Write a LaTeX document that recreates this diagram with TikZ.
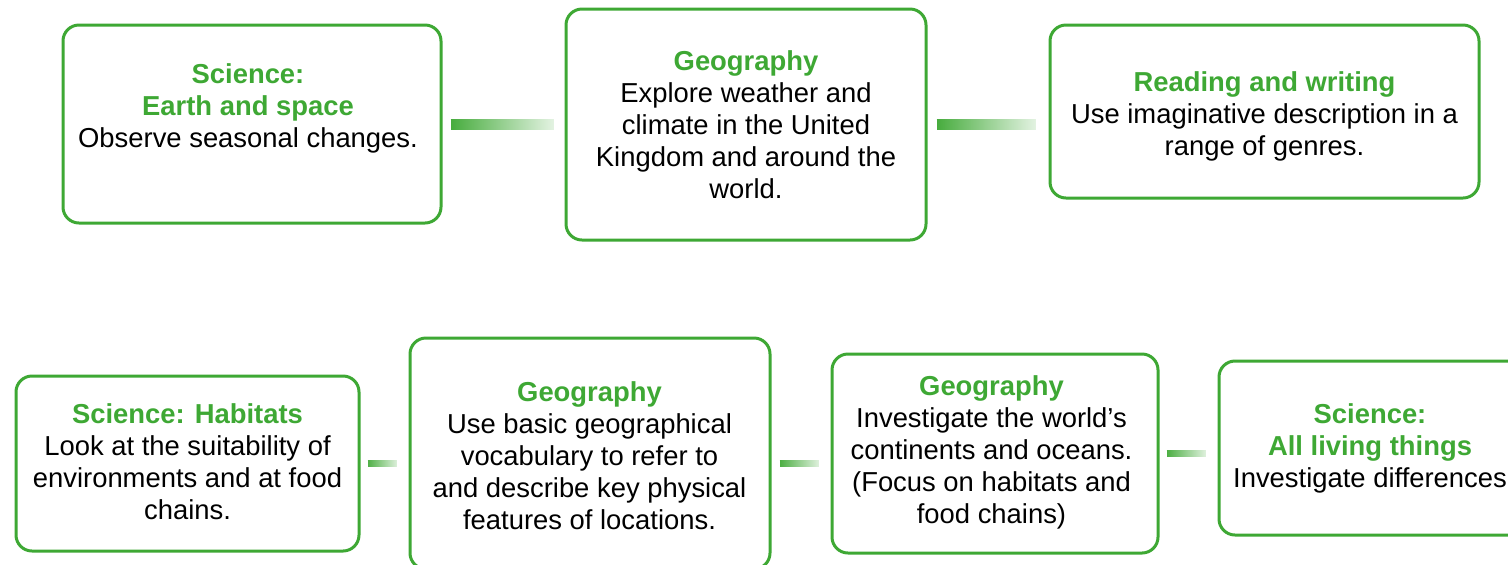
\documentclass[tikz,border=0pt]{standalone}
\usepackage{fontspec}
\setmainfont{Liberation Sans}
\usetikzlibrary{fadings}

\definecolor{leaf}{RGB}{62,168,52}
\tikzfading[name=brushfade, left color=transparent!0, middle color=transparent!0, right color=transparent!90]
\newcommand{\head}[1]{\textcolor{leaf}{\bfseries #1}}

\tikzset{
  box/.style={draw=leaf, line width=1.5pt, rounded corners=8pt},
  txt/.style={align=center, inner sep=0pt, font=\fontsize{13.7}{16}\selectfont},
  brush/.style={draw=leaf, line width=#1, path fading=brushfade},
}

\begin{document}
\begin{tikzpicture}[x=0.5pt, y=-0.5pt]
            \useasboundingbox (0,0) rectangle (1508,564);
            \clip (0,0) rectangle (1508,564);

            \node[box, minimum width=189pt, minimum height=99pt] (sci1) at (252,124) {};
            \node[box, minimum width=180pt, minimum height=115.5pt] (geo1) at (746,124.5) {};
            \node[box, minimum width=214.5pt, minimum height=86.5pt] (read) at (1264.5,111.5) {};
            \node[box, minimum width=171.5pt, minimum height=87.5pt] (hab) at (187.5,463.5) {};
            \node[box, minimum width=180pt, minimum height=115.5pt] (geo2) at (590,453.5) {};
            \node[box, minimum width=163pt, minimum height=99.5pt] (geo3) at (995,453.5) {};
            \node[box, minimum width=170.5pt, minimum height=87pt] (liv) at (1389.5,448) {};

            \node[txt] (sci1t) at (248,108) {\head{Science:}\\\head{Earth and space}\\Observe seasonal changes.};
            \node[txt] (geo1t) at (746,125) {\head{Geography}\\Explore weather and\\climate in the United\\Kingdom and around the\\world.};
            \node[txt] (readt) at (1264.5,116) {\head{Reading and writing}\\Use imaginative description in a\\range of genres.};
            \node[txt] (habt) at (187.5,462) {\head{Science: Habitats}\\Look at the suitability of\\environments and at food\\chains.};
            \node[txt] (geo2t) at (589.5,456) {\head{Geography}\\Use basic geographical\\vocabulary to refer to\\and describe key physical\\features of locations.};
            \node[txt] (geo3t) at (991.5,452) {\head{Geography}\\Investigate the world’s\\continents and oceans.\\(Focus on habitats and\\food chains)};
            \node[txt] (livt) at (1370,448) {\head{Science:}\\\head{All living things}\\Investigate differences};

            \draw[brush=5.5pt] ([xshift=4pt]sci1.east) -- ([xshift=-5.5pt]geo1.west |- sci1.east);
            \draw[brush=5.5pt] ([xshift=4.5pt]geo1.east) -- ([xshift=-6.5pt]read.west |- geo1.east);
            \draw[brush=3.5pt] ([xshift=3.5pt]hab.east) -- ([xshift=-6pt]geo2.west |- hab.east);
            \draw[brush=3.5pt] ([xshift=4pt]geo2.east |- hab.east) -- ([xshift=-6pt]geo3.west |- hab.east);
            \draw[brush=3.5pt] ([xshift=3.5pt]geo3.east) -- ([xshift=-6pt]liv.west |- geo3.east);
        \end{tikzpicture}
\end{document}
